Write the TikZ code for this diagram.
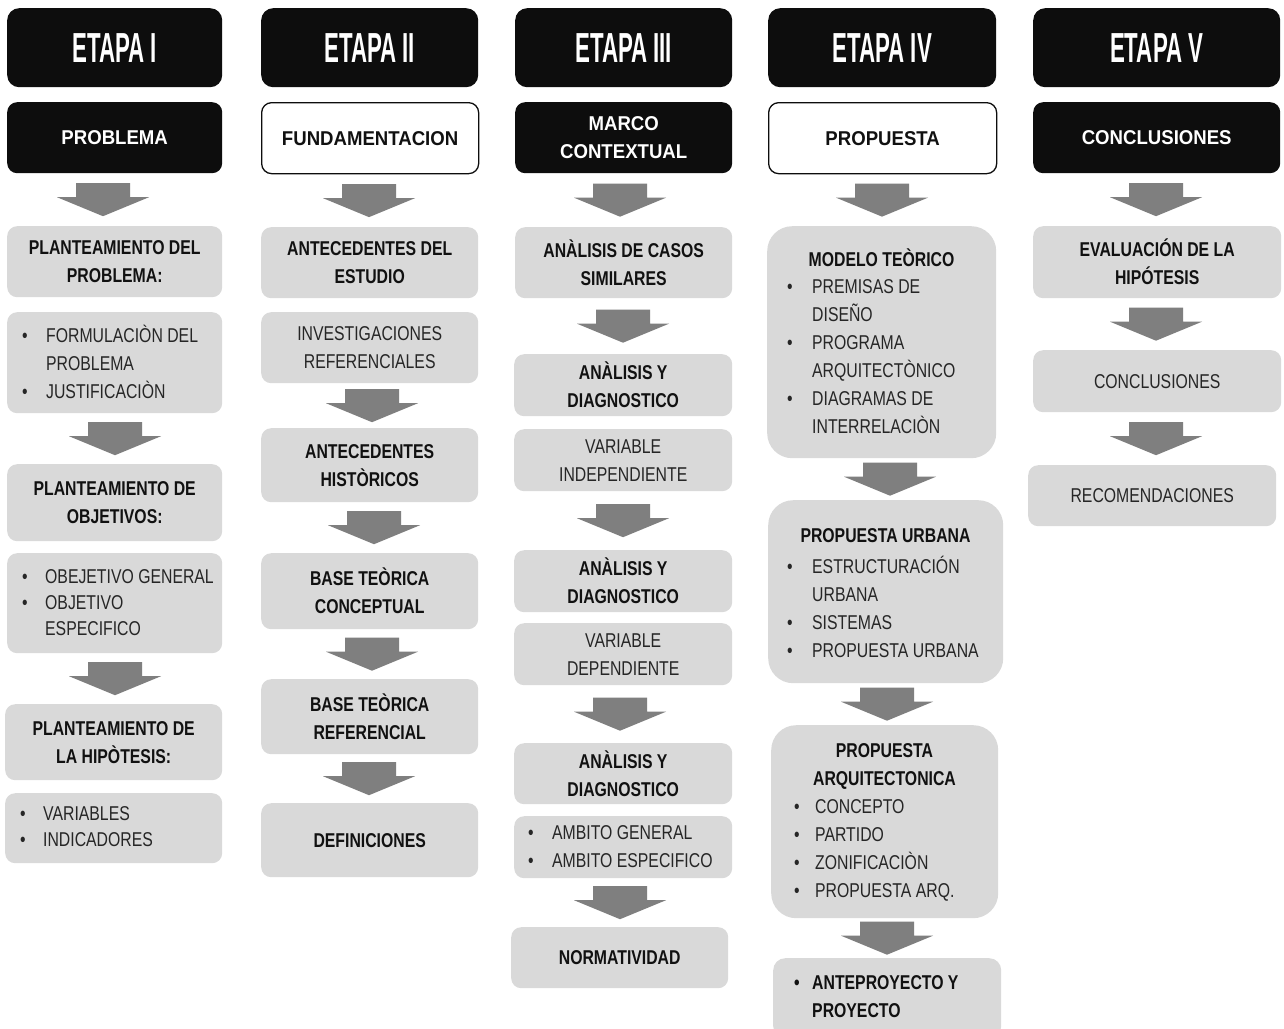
\documentclass[tikz,border=0pt]{standalone}
\usepackage{fontspec}
\setmainfont{Liberation Sans}
\newfontfamily\nar[FakeStretch=0.79]{Liberation Sans}
\newfontfamily\wid[FakeStretch=0.93]{Liberation Sans}
\newfontfamily\hed[FakeStretch=0.53]{Liberation Sans}
\usetikzlibrary{calc}
\definecolor{hblack}{HTML}{0D0D0D}
\definecolor{bgray}{HTML}{D9D9D9}
\definecolor{agray}{HTML}{7F7F7F}
\definecolor{tdark}{HTML}{111111}
\definecolor{treg}{HTML}{262626}
\newcommand{\bl}[1][24pt]{\makebox[#1][l]{•}}
\newcommand{\bi}[1][24pt]{\hspace*{#1}}
\newcommand{\barr}[3]{%
  \coordinate (mm) at ($(#1.south)!0.5!(#2.north)$);
  \coordinate (cx) at (#3,0);
  \coordinate (m) at (cx |- mm);
  \fill[agray] (m) ++(-27,-16.5) -- ++(54,0) -- ++(0,14) -- ++(19,0) -- ++(-46,19) -- ++(-46,-19) -- ++(19,0) -- cycle;
}
\tikzset{
  sz/.style 2 args={minimum width=#1pt, minimum height=#2pt},
  base/.style={rectangle, rounded corners=10pt, anchor=north west, inner sep=0pt, align=center},
  hdr/.style={base, rounded corners=12pt, fill=hblack, text=white, font=\hed\bfseries\fontsize{42}{42}\selectfont},
  blk/.style={base, fill=hblack, text=white, font=\wid\bfseries\fontsize{20}{28}\selectfont},
  wht/.style={base, fill=white, draw=hblack, line width=1.3pt, text=tdark, font=\wid\bfseries\fontsize{20}{28}\selectfont},
  gb/.style={base, fill=bgray, text=tdark, font=\nar\bfseries\fontsize{20}{28}\selectfont},
  gr/.style={base, fill=bgray, text=treg, font=\nar\fontsize{20}{28}\selectfont},
  big/.style={base, rounded corners=25pt, fill=bgray},
  lst/.style={anchor=west, inner sep=0pt, align=left, text=treg, font=\nar\fontsize{20}{28}\selectfont},
  lstb/.style={anchor=west, inner sep=0pt, align=left, text=tdark, font=\nar\bfseries\fontsize{20}{28}\selectfont},
  hd/.style={anchor=center, inner sep=0pt, align=center, text=tdark, font=\nar\bfseries\fontsize{20}{28}\selectfont}
}
\begin{document}
\begin{tikzpicture}[x=1pt,y=-1pt]
\useasboundingbox (0,0) rectangle (1284,1028);
\clip (0,0) rectangle (1284,1028);
\fill[white] (0,0) rectangle (1284,1028);

% Column I
\node[hdr, sz={215}{79}] (h1) at (7,8) {ETAPA I};
\node[blk, sz={215}{71}] (s1) at (7,102) {PROBLEMA};
\node[gb, sz={215}{71}] (b11) at (7,226) {PLANTEAMIENTO DEL\\PROBLEMA:};
\node[gr, sz={215}{101}] (b12) at (7,312) {};
\node[lst] (t12) at (22,362) {\bl FORMULACIÒN DEL\\\bi PROBLEMA\\\bl JUSTIFICACIÒN};
\node[gb, sz={215}{77}] (b13) at (7,464) {PLANTEAMIENTO DE\\OBJETIVOS:};
\node[gr, sz={215}{100}] (b14) at (7,553) {};
\node[lst, font=\nar\fontsize{20}{26}\selectfont] (t14) at (22,603) {\bl[23pt]OBEJETIVO GENERAL\\\bl[23pt]OBJETIVO\\\bi[23pt]ESPECIFICO};
\node[gb, sz={217}{76}] (b15) at (5,704) {PLANTEAMIENTO DE\\LA HIPÒTESIS:};
\node[gr, sz={217}{70}] (b16) at (5,793) {};
\node[lst, font=\nar\fontsize{20}{26}\selectfont] (t16) at (20,827) {\bl[23pt]VARIABLES\\\bl[23pt]INDICADORES};

% Column II
\node[hdr, sz={217}{79}] (h2) at (261,8) {ETAPA II};
\node[wht, sz={217}{71}] (s2) at (261,102) {FUNDAMENTACION};
\node[gb, sz={217}{71}] (b21) at (261,227) {ANTECEDENTES DEL\\ESTUDIO};
\node[gr, sz={217}{71}] (b22) at (261,312) {INVESTIGACIONES\\REFERENCIALES};
\node[gb, sz={217}{74}] (b23) at (261,428) {ANTECEDENTES\\HISTÒRICOS};
\node[gb, sz={217}{76}] (b24) at (261,553) {BASE TEÒRICA\\CONCEPTUAL};
\node[gb, sz={217}{75}] (b25) at (261,679) {BASE TEÒRICA\\REFERENCIAL};
\node[gb, sz={217}{74}] (b26) at (261,803) {DEFINICIONES};

% Column III
\node[hdr, sz={217}{79}] (h3) at (515,8) {ETAPA III};
\node[blk, sz={217}{71}] (s3) at (515,102) {MARCO\\CONTEXTUAL};
\node[gb, sz={217}{71}] (b31) at (515,227) {ANÀLISIS DE CASOS\\SIMILARES};
\node[gb, sz={218}{62}] (b32) at (514,354) {ANÀLISIS Y\\DIAGNOSTICO};
\node[gr, sz={218}{62}] (b33) at (514,429) {VARIABLE\\INDEPENDIENTE};
\node[gb, sz={218}{62}] (b34) at (514,550) {ANÀLISIS Y\\DIAGNOSTICO};
\node[gr, sz={218}{62}] (b35) at (514,623) {VARIABLE\\DEPENDIENTE};
\node[gb, sz={218}{61}] (b36) at (514,743) {ANÀLISIS Y\\DIAGNOSTICO};
\node[gr, sz={218}{62}] (b37) at (514,816) {};
\node[lst] (t37) at (528,847) {\bl AMBITO GENERAL\\\bl AMBITO ESPECIFICO};
\node[gb, sz={217}{61}] (b38) at (511,927) {NORMATIVIDAD};

% Column IV
\node[hdr, sz={228}{79}] (h4) at (768,8) {ETAPA IV};
\node[wht, sz={228}{71}] (s4) at (768,102) {PROPUESTA};
\node[big, sz={229}{232}] (b41) at (767,226) {};
\node[hd] (hd41) at (881.5,258) {MODELO TEÒRICO};
\node[lst] (t41) at (787,356.5) {\bl[25pt]PREMISAS DE\\\bi[25pt]DISEÑO\\\bl[25pt]PROGRAMA\\\bi[25pt]ARQUITECTÒNICO\\\bl[25pt]DIAGRAMAS DE\\\bi[25pt]INTERRELACIÒN};
\node[big, sz={235}{183}] (b42) at (768,500) {};
\node[hd] (hd42) at (885.5,536) {PROPUESTA URBANA};
\node[lst] (t42) at (787,607) {\bl[25pt]ESTRUCTURACIÓN\\\bi[25pt]URBANA\\\bl[25pt]SISTEMAS\\\bl[25pt]PROPUESTA URBANA};
\node[big, sz={227}{193}] (b43) at (771,725) {};
\node[hd] (hd43) at (884.5,766) {PROPUESTA\\ARQUITECTONICA};
\node[lst] (t43) at (794,850.5) {\bl[21pt]CONCEPTO\\\bl[21pt]PARTIDO\\\bl[21pt]ZONIFICACIÒN\\\bl[21pt]PROPUESTA ARQ.};
\node[base, rounded corners=12pt, fill=bgray, sz={228}{80}] (b44) at (773,958) {};
\node[lstb] (t44) at (794,997) {\bl[18pt]ANTEPROYECTO Y\\\bi[18pt]PROYECTO};

% Column V
\node[hdr, sz={247}{79}] (h5) at (1033,8) {ETAPA V};
\node[blk, sz={247}{71}] (s5) at (1033,102) {CONCLUSIONES};
\node[gb, sz={248}{72}] (b51) at (1033,226) {EVALUACIÓN DE LA\\HIPÓTESIS};
\node[gr, sz={248}{62}] (b52) at (1033,350) {CONCLUSIONES};
\node[gr, sz={248}{61}] (b53) at (1028,465) {RECOMENDACIONES};

% Block arrows
\barr{s1}{b11}{103}
\barr{b12}{b13}{115}
\barr{b14}{b15}{115}
\barr{s2}{b21}{369}
\barr{b22}{b23}{372}
\barr{b23}{b24}{374}
\barr{b24}{b25}{372}
\barr{b25}{b26}{369}
\barr{s3}{b31}{620}
\barr{b31}{b32}{623}
\barr{b33}{b34}{623}
\barr{b35}{b36}{620}
\barr{b37}{b38}{620}
\barr{s4}{b41}{882}
\barr{b41}{b42}{890}
\barr{b42}{b43}{887}
\barr{b43}{b44}{887}
\barr{s5}{b51}{1156}
\barr{b51}{b52}{1156}
\barr{b52}{b53}{1156}
\end{tikzpicture}
\end{document}
